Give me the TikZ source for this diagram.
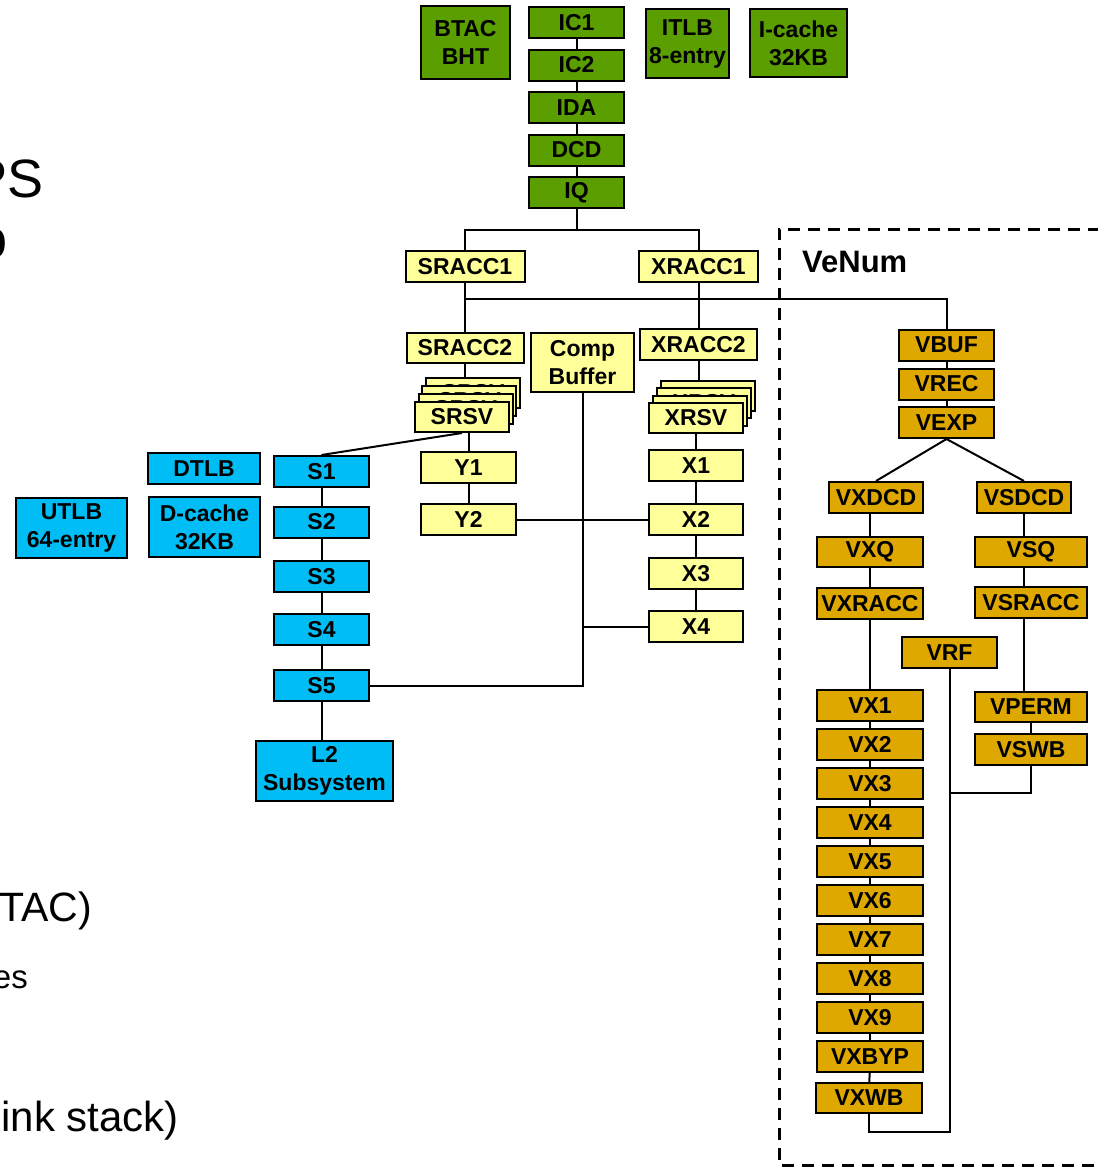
\documentclass[tikz,border=0pt]{standalone}
\usepackage{fontspec}
\setmainfont{Liberation Sans}
\usepackage{xcolor}
\usepackage{tikz}

\definecolor{fetchgreen}{RGB}{90,158,0}
\definecolor{intyellow}{RGB}{255,255,153}
\definecolor{lsblue}{RGB}{0,190,245}
\definecolor{vecgold}{RGB}{222,168,0}

\begin{document}
\begin{tikzpicture}[x=1pt, y=-1pt,
    unit/.style={draw, line width=2pt, inner sep=0pt, align=center,
        font=\bfseries\fontsize{23}{28}\selectfont},
    fetchbox/.style={unit, fill=fetchgreen},
    intbox/.style={unit, fill=intyellow},
    lsbox/.style={unit, fill=lsblue},
    vecbox/.style={unit, fill=vecgold},
    sz/.style 2 args={minimum width=#1pt, minimum height=#2pt},
    wire/.style={line width=2pt},
    frag/.style={inner sep=0pt, anchor=base east}]

    \useasboundingbox (0,0) rectangle (1098,1168);
    \fill[white] (0,0) rectangle (1098,1168);
    \clip (0,0) rectangle (1098,1168);

    % --- Cut-off slide text on the left ---
    \node[frag, font=\fontsize{54}{60}\selectfont] (txtps) at (44,197) {PS};
    \node[frag, font=\fontsize{56}{60}\selectfont] (txto) at (8,258) {o};
    \node[frag, font=\fontsize{41}{46}\selectfont] (txttac) at (92,921) {TAC)};
    \node[frag, font=\fontsize{33}{38}\selectfont] (txtes) at (28,988) {es};
    \node[frag, font=\fontsize{42}{48}\selectfont] (txtlink) at (179,1131) {ink stack)};

    % --- Fetch (green) ---
    \node[fetchbox, sz={89}{73}] (btac) at (465.5,42.5) {BTAC\\BHT};
    \foreach \name/\txt/\yy in {ic1/IC1/22.5, ic2/IC2/65, ida/IDA/107.5,
                                dcd/DCD/150, iq/IQ/192.5} {
        \node[fetchbox, sz={95}{31}] (\name) at (576.5,\yy) {\txt};
    }
    \node[fetchbox, sz={83}{69}] (itlb) at (687.5,43.5) {ITLB\\8-entry};
    \node[fetchbox, sz={97}{68}] (icache) at (798.5,43) {I-cache\\32KB};
    \foreach \a/\b in {ic1/ic2, ic2/ida, ida/dcd, dcd/iq} {
        \draw[wire] (\a) -- (\b);
    }

    % --- Integer pipes (yellow) ---
    \node[intbox, sz={119}{31}] (sracc1) at (465,266.5) {SRACC1};
    \node[intbox, sz={119}{31}] (xracc1) at (698.5,266.5) {XRACC1};
    \node[intbox, sz={117}{30}] (sracc2) at (465,348) {SRACC2};
    \node[intbox, sz={103}{59}] (compbuf) at (582.5,362.5) {Comp\\Buffer};
    \node[intbox, sz={117}{31}] (xracc2) at (698.5,344.5) {XRACC2};

    % stacked reservation stations
    \foreach \k in {3,2,1} {
        \node[intbox, sz={94}{30}] (srsv\k) at ({462+3.7*\k},{417-8*\k}) {SRSV};
        \node[intbox, sz={94}{30}] (xrsv\k) at ({696+4*\k},{418-7.5*\k}) {XRSV};
    }
    \node[intbox, sz={94}{30}] (srsv) at (462,417) {SRSV};
    \node[intbox, sz={94}{30}] (xrsv) at (696,418) {XRSV};

    \node[intbox, sz={95}{31}] (y1) at (468.5,467.5) {Y1};
    \node[intbox, sz={95}{31}] (y2) at (468.5,519.5) {Y2};
    \node[intbox, sz={94}{31}] (x1) at (696,465.5) {X1};
    \node[intbox, sz={94}{31}] (x2) at (696,519.5) {X2};
    \node[intbox, sz={94}{31}] (x3) at (696,573.5) {X3};
    \node[intbox, sz={94}{31}] (x4) at (696,626.5) {X4};

    % --- Load/store (blue) ---
    \node[lsbox, sz={112}{31}] (dtlb) at (204,468.5) {DTLB};
    \node[lsbox, sz={111}{60}] (dcache) at (204.5,527) {D-cache\\32KB};
    \node[lsbox, sz={111}{60}] (utlb) at (71.5,528) {UTLB\\64-entry};
    \foreach \name/\txt/\yy in {s1/S1/471.5, s2/S2/522, s3/S3/576.5,
                                s4/S4/629.5, s5/S5/685.5} {
        \node[lsbox, sz={95}{31}] (\name) at (321.5,\yy) {\txt};
    }
    \node[lsbox, sz={137}{60}] (l2) at (324.5,771) {L2\\Subsystem};

    % --- VeNum (gold) ---
    \draw[line width=3pt, dash pattern=on 12pt off 8pt]
        (1120,229) -| (779,1165) -- (1120,1165);
    \node[anchor=base west, inner sep=0pt,
          font=\bfseries\fontsize{31}{36}\selectfont] (venum) at (802,272) {VeNum};

    \node[vecbox, sz={95}{31}] (vbuf) at (946.5,345) {VBUF};
    \node[vecbox, sz={95}{31}] (vrec) at (946.5,384) {VREC};
    \node[vecbox, sz={95}{31}] (vexp) at (946.5,422.5) {VEXP};
    \node[vecbox, sz={94}{31}] (vxdcd) at (876,497.5) {VXDCD};
    \node[vecbox, sz={94}{31}] (vsdcd) at (1024,497.5) {VSDCD};
    \node[vecbox, sz={106}{30}] (vxq) at (870,552) {VXQ};
    \node[vecbox, sz={112}{30}] (vsq) at (1031,552) {VSQ};
    \node[vecbox, sz={106}{31}] (vxracc) at (870,603.5) {VXRACC};
    \node[vecbox, sz={112}{31}] (vsracc) at (1031,602.5) {VSRACC};
    \node[vecbox, sz={95}{31}] (vrf) at (949.5,652.5) {VRF};
    \foreach \i in {1,...,9} {
        \node[vecbox, sz={106}{31}] (vx\i) at (870,{705.5+39*(\i-1)}) {VX\i};
    }
    \node[vecbox, sz={106}{31}] (vxbyp) at (870,1056.5) {VXBYP};
    \node[vecbox, sz={106}{30}] (vxwb) at (869,1098) {VXWB};
    \node[vecbox, sz={112}{30}] (vperm) at (1031,707) {VPERM};
    \node[vecbox, sz={112}{31}] (vswb) at (1031,749.5) {VSWB};

    % --- Connectors ---
    \coordinate (issue) at (576.5,230);
    \coordinate (bus) at (465,299);
    \draw[wire] (iq) -- (issue);
    \draw[wire] (sracc1.north) |- (issue) -| (xracc1.north);
    \draw[wire] (sracc1) -- (sracc2);
    \draw[wire] (bus) -| (vbuf.north);
    \draw[wire] (xracc1) -- (xracc2);
    \draw[wire] (sracc2.south) -- (sracc2.south |- srsv3.north);
    \draw[wire] (xracc2.south) -- (xracc2.south |- xrsv3.north);
    \draw[wire] (y1.north) -- (y1.north |- srsv.south);
    \draw[wire] (srsv.south) -- (s1.north);
    \draw[wire] (y1) -- (y2);
    \draw[wire] (xrsv) -- (x1);
    \foreach \a/\b in {x1/x2, x2/x3, x3/x4, s1/s2, s2/s3, s3/s4, s4/s5} {
        \draw[wire] (\a) -- (\b);
    }
    \draw[wire] (s5.south) -- (s5.south |- l2.north);
    \draw[wire] (compbuf.south) |- (s5.east);
    \draw[wire] (y2.east) -- (x2.west);
    \draw[wire] (x4.west) -- (x4.west -| compbuf.south);

    \foreach \a/\b in {vbuf/vrec, vrec/vexp, vxracc/vx1, vx1/vx2, vx2/vx3,
                       vx3/vx4, vx4/vx5, vx5/vx6, vx6/vx7, vx7/vx8, vx8/vx9,
                       vx9/vxbyp, vxbyp/vxwb, vperm/vswb} {
        \draw[wire] (\a) -- (\b);
    }
    \draw[wire] (vexp.south) -- (vxdcd.north);
    \draw[wire] (vexp.south) -- (vsdcd.north);
    \draw[wire] (vxq.north |- vxdcd.south) -- (vxq.north);
    \draw[wire] (vxq) -- (vxracc);
    \draw[wire] (vsdcd.south) -- (vsdcd.south |- vsq.north);
    \draw[wire] (vsdcd.south |- vsq.south) -- (vsdcd.south |- vsracc.north);
    \draw[wire] (vsdcd.south |- vsracc.south) -- (vsdcd.south |- vperm.north);

    \coordinate (vjoin) at (949.5,793);
    \coordinate (vloop) at (949.5,1132);
    \draw[wire] (vswb.south) |- (vjoin);
    \draw[wire] (vrf.south) -- (vloop) -| (vxwb.south);

\end{tikzpicture}
\end{document}
